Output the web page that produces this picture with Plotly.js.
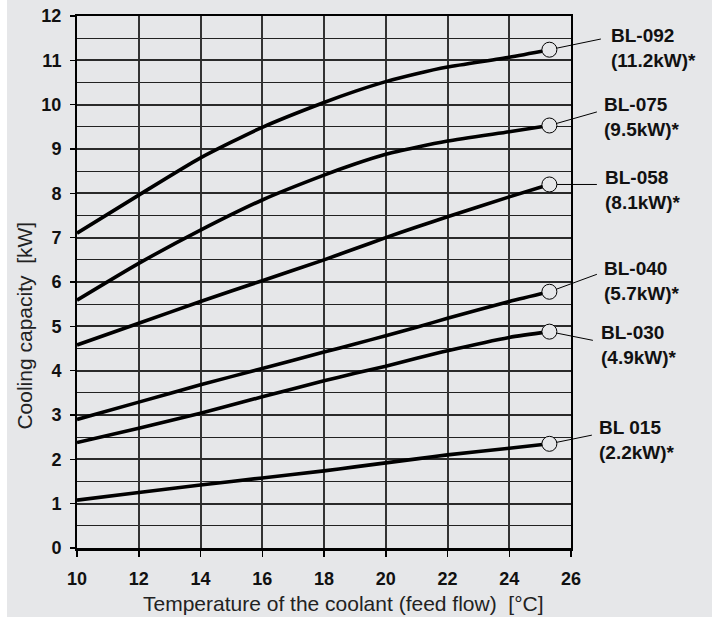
<!DOCTYPE html>
<html>
<head>
<meta charset="utf-8">
<script src="https://cdn.plot.ly/plotly-3.0.1.min.js"></script>
<style>
  html, body { margin: 0; padding: 0; background: #ffffff; }
  #chart { position: absolute; left: 7px; top: 0px; width: 705px; height: 617px; }
</style>
</head>
<body>
<div id="chart"></div>
<script>
// ---- data ----
var temps  = [10, 12, 14, 16, 18, 19, 20, 21, 22, 24, 25.3];
var bl092  = [7.10, 7.96, 8.80, 9.49, 10.05, 10.30, 10.52, 10.70, 10.85, 11.07, 11.24];
var bl075  = [5.59, 6.42, 7.17, 7.85, 8.41, 8.66, 8.88, 9.04, 9.18, 9.39, 9.53];
var bl058  = [4.58, 5.07, 5.56, 6.03, 6.50, 6.75, 7.00, 7.24, 7.47, 7.92, 8.20];
var bl040  = [2.90, 3.29, 3.68, 4.05, 4.42, 4.60, 4.79, 4.98, 5.18, 5.56, 5.78];
var bl030  = [2.38, 2.70, 3.04, 3.41, 3.77, 3.94, 4.10, 4.28, 4.45, 4.75, 4.88];
var bl015  = [1.08, 1.25, 1.42, 1.58, 1.74, 1.83, 1.92, 2.01, 2.10, 2.25, 2.35];
var seriesNames = ['BL-092', 'BL-075', 'BL-058', 'BL-040', 'BL-030', 'BL 015'];
var ratings     = ['(11.2kW)*', '(9.5kW)*', '(8.1kW)*', '(5.7kW)*', '(4.9kW)*', '(2.2kW)*'];
var xTicks = [10, 12, 14, 16, 18, 20, 22, 24, 26];
var yTicks = [0, 1, 2, 3, 4, 5, 6, 7, 8, 9, 10, 11, 12];
var xTitle = 'Temperature of the coolant (feed flow)\u00a0\u00a0[°C]';
var yTitle = 'Cooling capacity\u00a0\u00a0[kW]';

// ---- styling (pixel offsets of labels / leader lines) ----
var labelShift  = [[60, 2], [53, 9], [54, -6], [53, 11], [50, -13], [48, 4]];
var leaderShift = [[53, -11], [49, -14], [49, 0], [49, -18], [45, 9], [44, -9]];

var allSeries = [bl092, bl075, bl058, bl040, bl030, bl015];
var BG = '#e6e7e9';
var FONT = '"Liberation Sans", Arial, Helvetica, sans-serif';

var traces = [];
var annotations = [];
allSeries.forEach(function (vals, i) {
  traces.push({
    x: temps, y: vals, type: 'scatter', mode: 'lines',
    line: { color: '#000', width: 3.6, shape: 'spline', smoothing: 0.6 },
    hoverinfo: 'skip', showlegend: false
  });
  var xe = temps[temps.length - 1], ye = vals[vals.length - 1];
  traces.push({
    x: [xe], y: [ye], type: 'scatter', mode: 'markers',
    marker: { symbol: 'circle', size: 15, color: BG, line: { color: '#000', width: 1 } },
    hoverinfo: 'skip', showlegend: false
  });
  annotations.push({
    x: xe, y: ye, xref: 'x', yref: 'y', text: '', showarrow: true,
    arrowhead: 0, arrowwidth: 1, arrowcolor: '#000', standoff: 7.5,
    ax: leaderShift[i][0], ay: leaderShift[i][1]
  });
  annotations.push({
    x: xe, y: ye, xref: 'x', yref: 'y', showarrow: false,
    text: '<b>' + seriesNames[i] + '<br>' + ratings[i] + '</b>',
    xanchor: 'left', yanchor: 'middle', align: 'left',
    xshift: labelShift[i][0], yshift: labelShift[i][1],
    font: { family: FONT, size: 19, color: '#111' }
  });
});

annotations.push({
  text: xTitle, xref: 'paper', yref: 'paper', x: 0.5395, y: -0.105,
  xanchor: 'center', yanchor: 'middle', showarrow: false,
  font: { family: FONT, size: 21, color: '#222' }
});
annotations.push({
  text: yTitle, xref: 'paper', yref: 'paper', x: -0.1063, y: 0.419,
  xanchor: 'center', yanchor: 'middle', showarrow: false, textangle: -90,
  font: { family: FONT, size: 21, color: '#222' }
});

var layout = {
  width: 705, height: 617,
  paper_bgcolor: BG, plot_bgcolor: BG,
  margin: { l: 70, r: 141, t: 16, b: 69 },
  showlegend: false,
  xaxis: {
    range: [10, 26], tickmode: 'array', tickvals: xTicks, ticktext: xTicks.map(String),
    showgrid: true, gridcolor: '#333', gridwidth: 2,
    showline: true, linecolor: '#000', linewidth: 2.5, mirror: true,
    ticks: 'outside', ticklen: 6, tickwidth: 1.5, tickcolor: '#000',
    zeroline: false, ticklabelstandoff: 7,
    tickfont: { family: FONT, size: 18, color: '#111', weight: 'bold' }
  },
  yaxis: {
    range: [0, 12], tickmode: 'array', tickvals: yTicks, ticktext: yTicks.map(String),
    showgrid: true, gridcolor: '#2a2a2a', gridwidth: 2,
    minor: { dtick: 0.5, showgrid: true, gridcolor: '#222', gridwidth: 1, ticks: '' },
    showline: true, linecolor: '#000', linewidth: 2, mirror: true,
    ticks: 'outside', ticklen: 5, tickwidth: 1.5, tickcolor: '#000',
    zeroline: false, ticklabelstandoff: 5,
    tickfont: { family: FONT, size: 18, color: '#111', weight: 'bold' }
  },
  annotations: annotations
};

Plotly.newPlot('chart', traces, layout, { displayModeBar: false, staticPlot: true });
</script>
</body>
</html>
